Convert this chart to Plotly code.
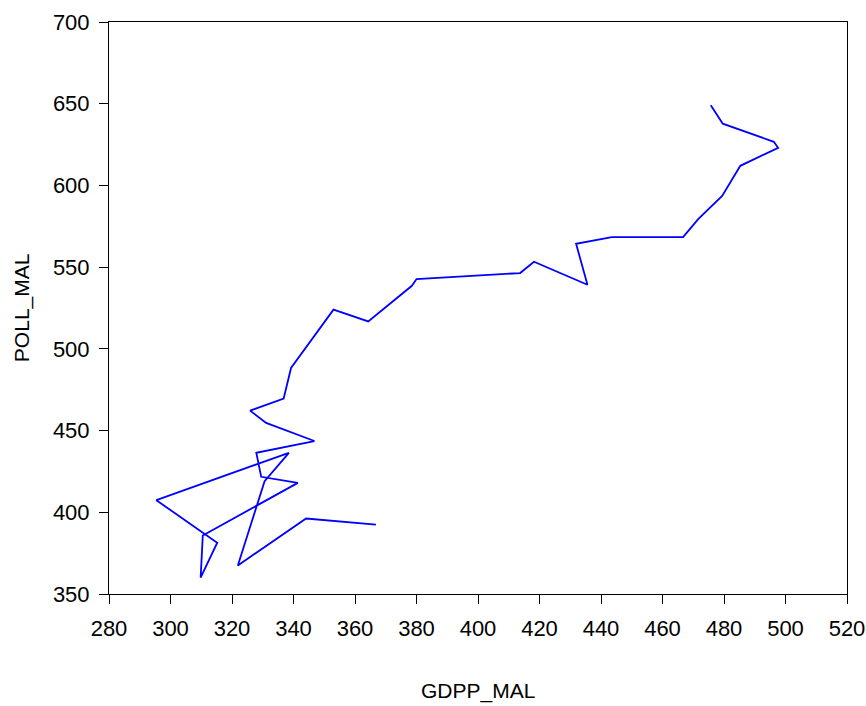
import plotly.graph_objects as go

gdpp_mal = [366.8, 344.1, 321.9, 330.6, 338.5, 295.4, 315.2, 309.8, 310.5, 341.4,
            329.5, 327.9, 346.8, 331.1, 325.9, 336.8, 339.2, 353.0, 364.3, 378.5,
            380.0, 413.7, 418.2, 435.6, 431.9, 443.5, 466.7, 471.6, 479.4, 485.3,
            497.6, 496.2, 479.6, 475.7]
poll_mal = [392.5, 396.2, 367.5, 419.0, 436.4, 407.4, 381.4, 360.0, 385.8, 418.0,
            421.7, 436.4, 443.6, 454.7, 462.2, 469.6, 488.3, 524.0, 516.8, 538.6,
            542.7, 546.4, 553.3, 539.2, 564.3, 568.4, 568.4, 579.4, 593.6, 612.0,
            623.0, 626.7, 637.8, 649.1]

x_ticks = [280, 300, 320, 340, 360, 380, 400, 420, 440, 460, 480, 500, 520]
y_ticks = [350, 400, 450, 500, 550, 600, 650, 700]

TICKFONT = "Liberation Sans Narrow, Arial Narrow, Liberation Sans, Arial, sans-serif"
FONT = "Liberation Sans Narrow, Arial Narrow, Liberation Sans, Arial, sans-serif"

fig = go.Figure(go.Scatter(
    x=gdpp_mal, y=poll_mal, mode="lines",
    line=dict(color="#0000FF", width=1.8),
    showlegend=False, hoverinfo="skip"))

axis_common = dict(
    showgrid=False, zeroline=False, showline=True, linecolor="black",
    linewidth=1, mirror=True, ticks="outside", ticklen=9, tickwidth=1,
    tickcolor="black", tickfont=dict(family=TICKFONT, size=22, color="black"),
    ticklabeloverflow="allow", automargin=False,
)

fig.update_layout(
    width=866, height=706,
    margin=dict(l=109, r=19, t=22, b=112),
    paper_bgcolor="white", plot_bgcolor="white",
    xaxis=dict(range=[280, 520], tickvals=x_ticks,
               ticktext=[str(v) for v in x_ticks], ticklabelstandoff=6,
               **axis_common),
    yaxis=dict(range=[350, 700], tickvals=y_ticks,
               ticktext=[str(v) for v in y_ticks], ticklabelstandoff=5,
               **axis_common),
    annotations=[
        dict(text="GDPP_MAL", xref="paper", yref="paper", x=0.5, y=-0.1696,
             xanchor="center", yanchor="middle", showarrow=False,
             font=dict(family=FONT, size=21, color="black")),
        dict(text="POLL_MAL", xref="paper", yref="paper", x=-0.1177, y=0.5,
             xanchor="center", yanchor="middle", showarrow=False, textangle=-90,
             font=dict(family=FONT, size=21, color="black")),
    ],
)

fig.write_html("out.html")
